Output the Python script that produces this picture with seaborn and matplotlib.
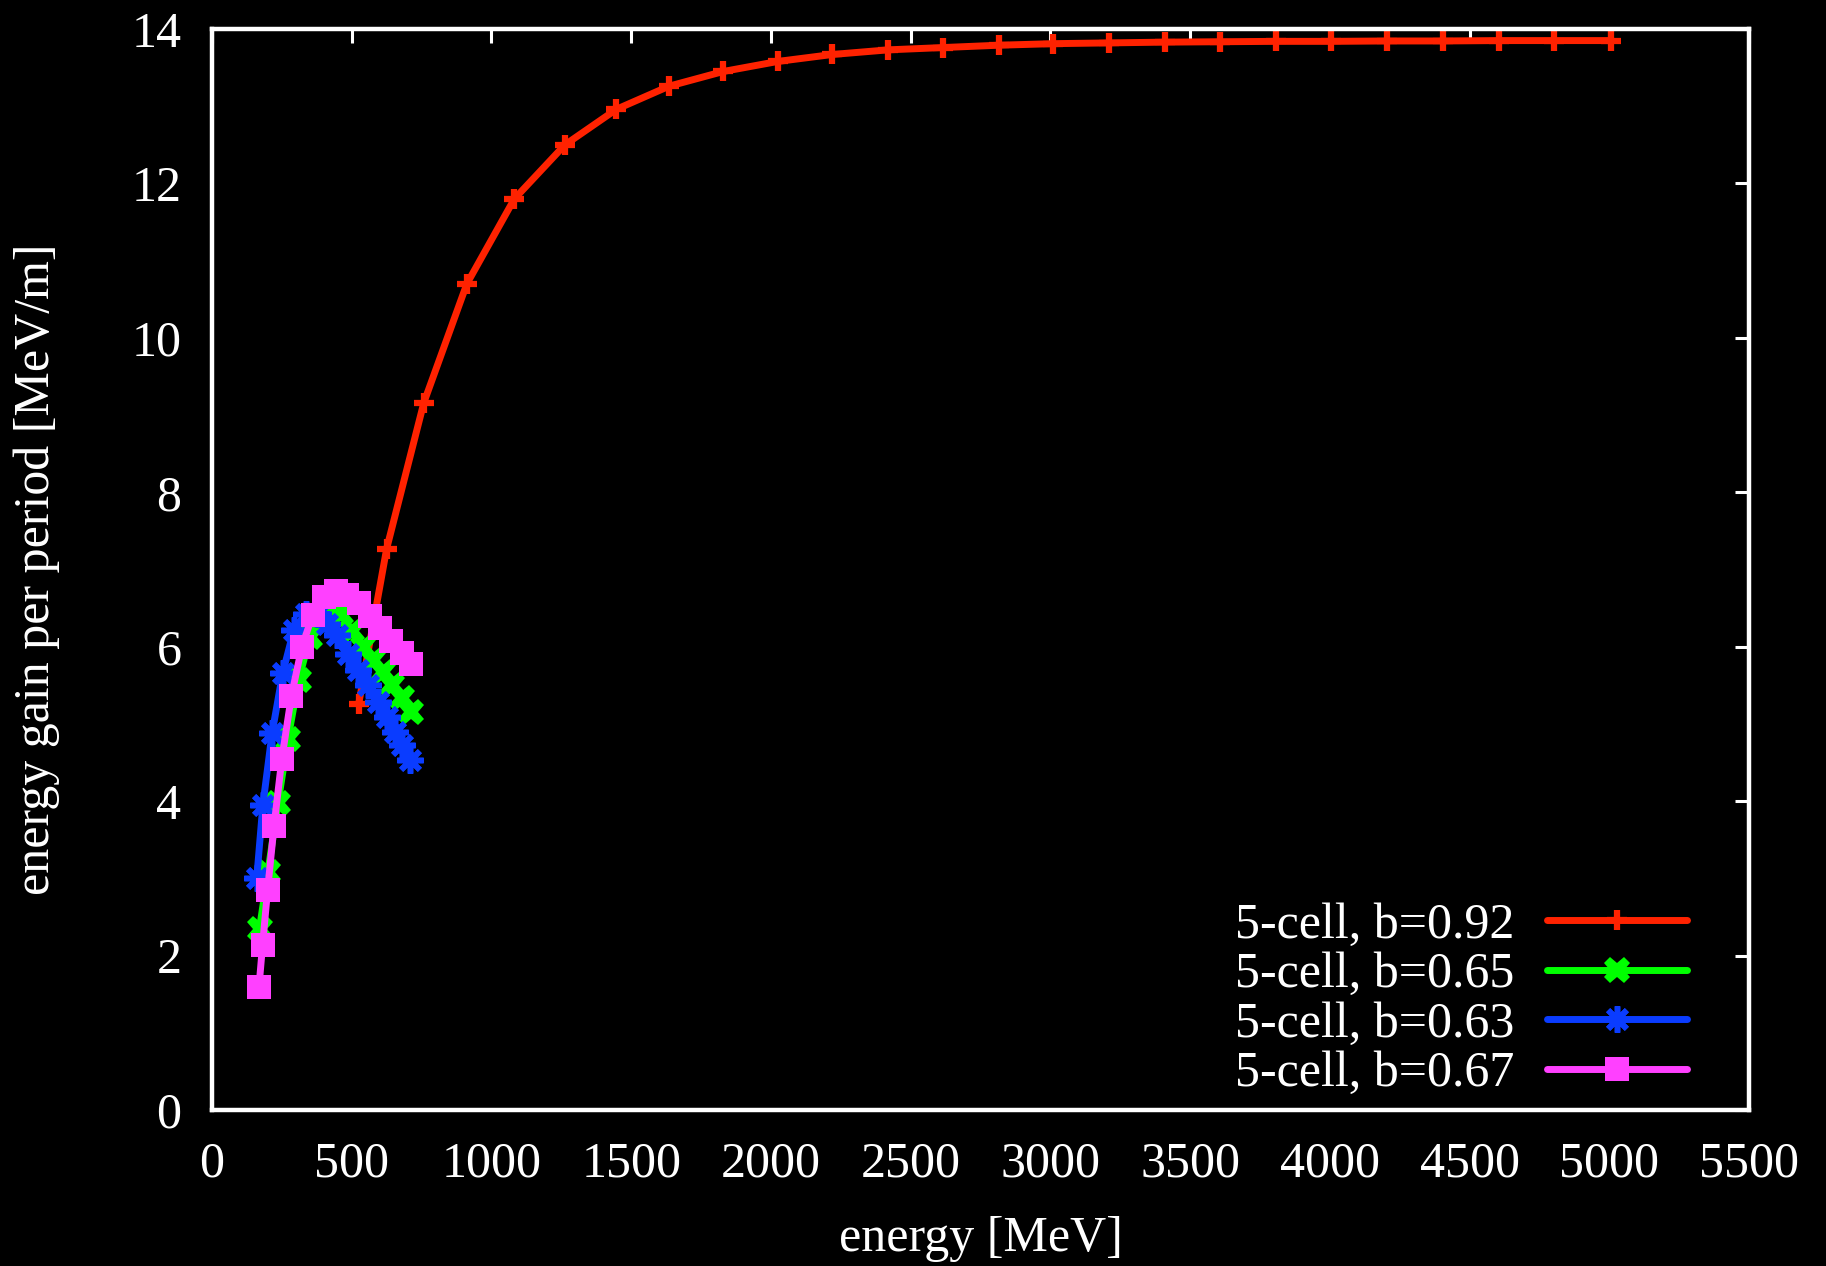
import matplotlib
matplotlib.use("Agg")
import matplotlib.pyplot as plt
import seaborn as sns
import pandas as pd

# ---- data ----
red_x = [525, 625, 758, 912, 1082, 1263, 1447, 1636, 1830, 2025, 2220, 2420, 2617,
         2815, 3010, 3210, 3410, 3608, 3806, 4004, 4205, 4404, 4606, 4804, 5005]
red_y = [5.26, 7.27, 9.16, 10.70, 11.80, 12.50, 12.96, 13.26, 13.45, 13.58, 13.67,
         13.73, 13.76, 13.79, 13.81, 13.82, 13.83, 13.835, 13.84, 13.84, 13.845,
         13.845, 13.85, 13.85, 13.85]

green_x = [170, 200, 236, 272, 310, 350, 392, 430, 462, 500, 541, 577, 613, 645, 680, 712]
green_y = [2.35, 3.08, 3.97, 4.81, 5.57, 6.12, 6.42, 6.50, 6.42, 6.20, 6.00, 5.83,
           5.67, 5.50, 5.33, 5.16]

blue_x = [160, 182, 215, 253, 293, 337, 380, 413, 446, 488, 524, 560, 595, 625, 655, 680, 708]
blue_y = [3.00, 3.95, 4.88, 5.66, 6.22, 6.43, 6.42, 6.30, 6.15, 5.91, 5.70, 5.50,
          5.29, 5.09, 4.90, 4.73, 4.53]

mag_x = [168, 181, 199, 222, 250, 284, 321, 360, 401, 443, 483, 525, 565, 602, 640, 679, 713]
mag_y = [1.59, 2.14, 2.85, 3.68, 4.55, 5.36, 5.99, 6.41, 6.65, 6.72, 6.67, 6.56,
         6.40, 6.24, 6.08, 5.92, 5.77]

labels = ["5-cell, b=0.92", "5-cell, b=0.65", "5-cell, b=0.63", "5-cell, b=0.67"]
x_ticks = list(range(0, 5501, 500))
y_ticks = list(range(0, 15, 2))

# ---- style ----
sns.set_style("dark")
plt.rcParams["font.family"] = ["Liberation Serif", "DejaVu Serif"]
plt.rcParams["font.size"] = 36
plt.rcParams["text.color"] = "white"
plt.rcParams["axes.labelcolor"] = "white"

fig = plt.figure(figsize=(18.26, 12.66), dpi=100, facecolor="black")
ax = fig.add_axes([212 / 1826, 1 - 1110 / 1266, (1749 - 212) / 1826, (1110 - 29) / 1266])
ax.set_facecolor("black")

series = [
    (red_x, red_y, "#ff2200", "+", dict(markersize=15, markeredgewidth=4.5)),
    (green_x, green_y, "#00ff00", "X", dict(markersize=19, markeredgewidth=0)),
    (blue_x, blue_y, "#0a3cff", (8, 2, 0), dict(markersize=19, markeredgewidth=4)),
    (mag_x, mag_y, "#ff40ff", "s", dict(markersize=17, markeredgewidth=0)),
]
for (xs, ys, col, mk, mkw), lab in zip(series, labels):
    df = pd.DataFrame({"energy": xs, "gain": ys})
    sns.lineplot(data=df, x="energy", y="gain", ax=ax, sort=False, color=col,
                 linewidth=5, marker=mk, markerfacecolor=col, markeredgecolor=col,
                 label=lab, **mkw)

ax.set_xlim(0, 5500)
ax.set_ylim(0, 14)
ax.set_xticks(x_ticks)
ax.set_yticks(y_ticks)
ax.grid(False)
for s in ax.spines.values():
    s.set_visible(True)
    s.set_color("white")
    s.set_linewidth(3.2)
ax.tick_params(axis="both", which="both", direction="in", length=10, width=2.2,
               colors="white", labelsize=36, top=True, right=True)
ax.tick_params(axis="x", pad=22)
ax.tick_params(axis="y", pad=22)

ax.set_xlabel("energy [MeV]", fontsize=36)
ax.set_ylabel("energy gain per period [MeV/m]", fontsize=36)
ax.xaxis.set_label_coords(0.5, -0.098)
ax.yaxis.set_label_coords(-0.099, 0.5)

leg = ax.legend(loc="lower right", bbox_to_anchor=(1687 / 1826, 1 - 1097 / 1266),
                bbox_transform=fig.transFigure, frameon=False, markerfirst=False,
                fontsize=36, handlelength=2.8, handletextpad=0.65, labelspacing=0.06,
                borderpad=0, borderaxespad=0)
for t in leg.get_texts():
    t.set_color("white")

fig.savefig("out.png", dpi=100, facecolor="black")
